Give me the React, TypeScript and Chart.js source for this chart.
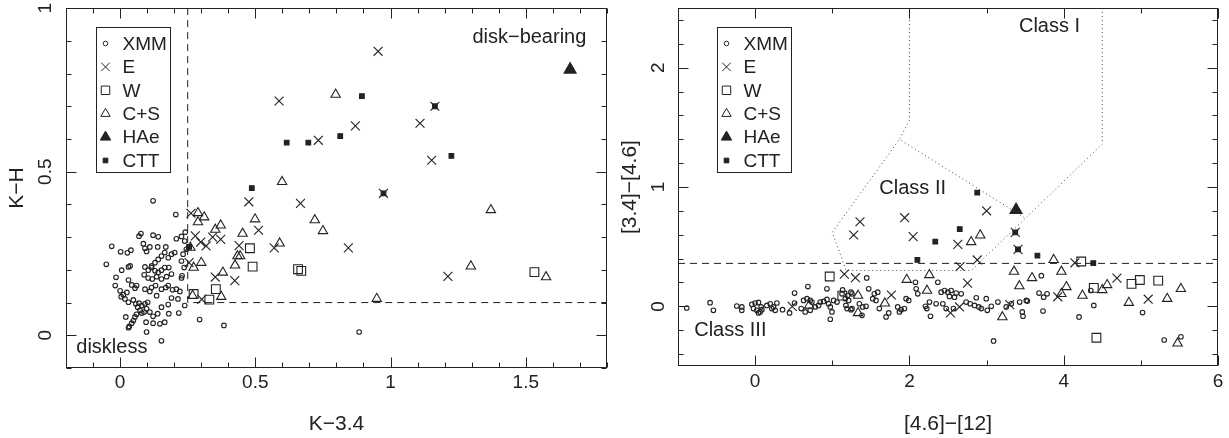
import React, { useEffect, useRef } from "react";
import { Chart, registerables } from "chart.js";
Chart.register(...registerables);

type P = [number, number];

const FONT = "'Liberation Sans', Arial, sans-serif";
const INK = "#222";

// ---------- Left panel: K-3.4 vs K-H ----------
const leftXTicks = [0, 0.5, 1, 1.5];
const leftYTicks = [0, 0.5, 1];
const leftXMM: P[] = [
  [0.122,0.411],[0.206,0.369],[0.077,0.311],[0.070,0.303],[0.122,0.306],[0.141,0.301],[0.208,0.295],[0.227,0.302],[0.241,0.315],[0.239,0.288],
  [-0.031,0.272],[0.002,0.255],[0.027,0.252],[0.040,0.260],[0.086,0.280],[0.092,0.266],[0.098,0.256],[0.110,0.270],[0.139,0.270],[0.169,0.270],
  [0.165,0.253],[0.153,0.242],[0.141,0.232],[0.129,0.222],[0.117,0.212],[0.178,0.237],[0.190,0.248],[0.202,0.253],[0.233,0.248],[0.245,0.263],
  [0.227,0.227],[0.237,0.207],[0.229,0.182],[0.227,0.175],[-0.051,0.217],[0.006,0.199],[0.031,0.209],[0.037,0.212],[0.092,0.209],[0.104,0.199],
  [0.116,0.207],[0.129,0.197],[0.141,0.192],[0.153,0.199],[0.165,0.207],[0.180,0.207],[0.190,0.187],[0.089,0.185],[0.104,0.175],[0.119,0.172],
  [0.135,0.179],[0.153,0.172],[0.172,0.179],[-0.015,0.177],[0.031,0.169],[0.043,0.154],[0.055,0.144],[0.061,0.152],[-0.018,0.152],[0.000,0.136],
  [0.012,0.124],[0.004,0.118],[0.025,0.131],[0.092,0.141],[0.110,0.134],[0.116,0.146],[0.131,0.152],[0.135,0.121],[0.153,0.141],[0.169,0.146],
  [0.178,0.152],[0.194,0.139],[0.208,0.141],[0.221,0.134],[0.018,0.111],[0.031,0.101],[0.049,0.108],[0.058,0.096],[0.070,0.098],[0.080,0.091],
  [0.092,0.096],[0.102,0.101],[0.065,0.086],[0.074,0.076],[0.080,0.068],[0.089,0.071],[0.098,0.081],[0.061,0.064],[0.055,0.056],[0.049,0.045],
  [0.043,0.037],[0.034,0.027],[0.031,0.023],[0.021,0.056],[0.110,0.071],[0.122,0.058],[0.139,0.066],[0.153,0.086],[0.178,0.094],[0.190,0.114],
  [0.214,0.111],[0.239,0.091],[0.217,0.068],[0.180,0.066],[0.165,0.040],[0.147,0.035],[0.122,0.037],[0.096,0.040],[0.098,0.010],[0.294,0.048],
  [0.153,-0.017],[0.384,0.030],[0.884,0.010]
];
const leftE: P[] = [
  [0.954,0.868],[0.588,0.716],[0.733,0.596],[0.870,0.640],[1.109,0.648],[1.164,0.700],[1.152,0.535],[0.974,0.434],[0.476,0.408],[0.667,0.403],
  [0.512,0.321],[0.570,0.267],[0.844,0.267],[1.212,0.180],[0.440,0.274],[0.424,0.167],[0.352,0.178],[0.262,0.373],[0.278,0.304],[0.298,0.285],
  [0.318,0.273],[0.342,0.300],[0.372,0.293],[0.255,0.222],[0.302,0.110]
];
const leftW: P[] = [
  [0.272,0.126],[0.330,0.109],[0.354,0.141],[0.480,0.266],[0.490,0.210],[0.658,0.202],[0.670,0.197],[1.532,0.193]
];
const leftCS: P[] = [
  [0.797,0.736],[0.599,0.469],[0.499,0.355],[0.720,0.352],[0.750,0.319],[0.590,0.281],[1.371,0.383],[1.297,0.211],[1.575,0.178],[0.949,0.112],
  [0.288,0.374],[0.311,0.361],[0.288,0.346],[0.372,0.336],[0.352,0.323],[0.453,0.311],[0.260,0.268],[0.300,0.222],[0.272,0.207],[0.380,0.192],
  [0.425,0.214],[0.434,0.242],[0.444,0.242],[0.268,0.121],[0.374,0.118]
];
const leftHAe: P[] = [[1.664,0.812]];
const leftCTT: P[] = [
  [0.894,0.731],[0.616,0.589],[0.696,0.589],[0.814,0.609],[1.164,0.700],[1.225,0.548],[0.974,0.434],[0.487,0.450],[0.255,0.270]
];
const leftBoundary: P[] = [[0.25,1.0],[0.25,0.1],[1.8,0.1]];

// ---------- Right panel: [4.6]-[12] vs [3.4]-[4.6] ----------
const rightXTicks = [0, 2, 4, 6];
const rightYTicks = [0, 1, 2];
const rightXMM: P[] = [
  [-0.887,-0.014],[-0.584,0.031],[-0.541,-0.033],[-0.238,0.003],[-0.173,-0.005],[-0.173,-0.033],[-0.043,0.017],[0,0.028],[0.043,0.033],[-0.022,-0.019],
  [0.022,-0.033],[0.043,-0.055],[0.065,-0.047],[0.087,-0.028],[0.078,-0.005],[0.152,0.008],[0.195,0.022],[0.238,-0.005],[0.26,-0.033],[0.282,0.028],
  [0.216,-0.019],[0.355,-0.028],[0.446,-0.055],[0.511,0.028],[0.511,0.111],[0.597,-0.019],[0.628,0.050],[0.671,0.064],[0.714,0.050],[0.736,0.036],
  [0.649,-0.047],[0.714,-0.033],[0.779,-0.005],[0.822,0.008],[0.844,0.036],[0.887,0.041],[0.931,0.058],[0.952,0.022],[0.974,-0.005],[0.996,-0.047],
  [0.974,-0.108],[1.017,0.050],[1.061,0.036],[0.931,0.147],[0.684,0.166],[1.126,0.105],[1.169,0.064],[1.212,0.050],[1.256,0.105],[1.256,-0.019],
  [1.191,-0.019],[1.134,0.138],[1.199,0.091],[1.242,0.119],[1.177,0.008],[1.242,-0.028],[1.351,0.022],[1.394,-0.005],[1.385,-0.075],[1.437,0],
  [1.446,0.238],[1.472,0.147],[1.524,0.064],[1.545,0.105],[1.589,0.119],[1.567,0.050],[1.61,-0.019],[1.697,-0.089],[1.732,-0.055],[1.848,-0.005],
  [1.892,-0.028],[1.935,-0.019],[1.957,0.064],[1.991,0.050],[1.87,-0.047],[2.078,0.202],[2.087,0.147],[2.108,0.105],[2.26,0.036],[2.208,0],
  [2.225,-0.019],[2.273,-0.083],[2.346,0.022],[2.368,0.202],[2.411,0.119],[2.455,0.133],[2.498,0.119],[2.541,0.133],[2.519,0.083],[2.584,0.077],
  [2.606,0.111],[2.433,0.022],[2.476,-0.019],[2.571,-0.019],[2.671,0.105],[2.736,0.036],[2.788,0.022],[2.844,0.008],[2.866,0.072],[2.900,-0.005],
  [2.931,-0.019],[2.996,0.064],[3.009,-0.033],[3.061,0],[3.147,0.036],[3.255,-0.005],[3.32,0.022],[3.429,0.036],[3.463,-0.047],[3.472,-0.083],
  [3.528,0.044],[3.091,-0.290],[3.71,0.257],[3.68,0.111],[3.74,0.077],[3.784,0.105],[3.732,-0.039],[3.515,0.050],[4.351,0.133],[4.39,0.008],
  [4.199,-0.089],[5.022,-0.052],[5.303,-0.282],[5.519,-0.255]
];
const rightE: P[] = [
  [1.278,0.598],[1.359,0.709],[1.938,0.743],[2.048,0.584],[2.627,0.520],[2.657,0.334],[2.879,0.389],[3.000,0.801],[3.372,0.620],[3.407,0.478],
  [2.753,0.195],[1.156,0.270],[1.300,0.240],[4.145,0.365],[4.690,0.237],[5.095,0.060],[3.923,0.080],[3.300,0.015],[2.532,-0.055],[2.649,-0.005],
  [1.766,0.095],[0.480,0.000]
];
const rightW: P[] = [
  [0.966,0.250],[1.130,0.090],[4.227,0.376],[4.390,0.155],[4.879,0.188],[4.987,0.221],[5.225,0.216],[4.424,-0.263]
];
const rightCS: P[] = [
  [0.700,0.008],[1.334,0.090],[1.334,-0.055],[1.682,0.025],[1.965,0.224],[2.258,0.263],[2.228,0.132],[2.800,0.540],[2.918,0.596],[3.205,-0.090],
  [3.356,0.292],[3.425,0.170],[3.870,0.390],[3.970,0.292],[4.035,0.163],[3.970,0.105],[3.589,0.238],[4.243,0.091],[4.500,0.138],[4.563,0.180],
  [4.844,0.031],[5.342,0.064],[5.519,0.147],[5.476,-0.310]
];
const rightHAe: P[] = [[3.382,0.807]];
const rightCTT: P[] = [
  [2.879,0.954],[2.652,0.648],[2.335,0.542],[2.103,0.389],[3.372,0.620],[3.407,0.478],[3.659,0.426],[4.383,0.362]
];
const rightDiskLine: P[] = [[-1,0.36],[6,0.36]];
const classIBoundary: P[] = [[2,2.5],[2,1.56],[1.87,1.40],[3.5,0.74]];
const classIIBoundary: P[] = [[4.5,2.5],[4.5,1.36],[2.8,0.30],[1.18,0.30],[1.0,0.62],[1.87,1.40]];

// ---------- helpers ----------
const toPts = (a: P[]) => a.map(([x, y]) => ({ x, y }));

function markerSets(xmm: P[], e: P[], w: P[], cs: P[], hae: P[], ctt: P[]) {
  const base = { pointBorderColor: INK, pointBorderWidth: 1.1, legendEntry: true };
  return [
    { ...base, label: "XMM", data: toPts(xmm), pointStyle: "circle", pointRadius: 2.3, pointBackgroundColor: "rgba(0,0,0,0)" },
    { ...base, label: "E", data: toPts(e), pointStyle: "crossRot", pointRadius: 6.3, pointBackgroundColor: "rgba(0,0,0,0)" },
    { ...base, label: "W", data: toPts(w), pointStyle: "rect", pointRadius: 6.2, pointBackgroundColor: "rgba(0,0,0,0)" },
    { ...base, label: "C+S", data: toPts(cs), pointStyle: "triangle", pointRadius: 5.4, pointBackgroundColor: "rgba(0,0,0,0)" },
    { ...base, label: "HAe", data: toPts(hae), pointStyle: "triangle", pointRadius: 7, pointBackgroundColor: INK },
    { ...base, label: "CTT", data: toPts(ctt), pointStyle: "rect", pointRadius: 3.3, pointBackgroundColor: INK },
  ];
}

function lineSet(pts: P[], dash: number[], color = INK) {
  return {
    label: "", data: toPts(pts), showLine: true, pointRadius: 0, borderColor: color,
    borderWidth: 1, borderDash: dash, fill: false, tension: 0, legendEntry: false,
  };
}

function drawMarker(ctx: CanvasRenderingContext2D, style: string, x: number, y: number, r: number, fill: string) {
  ctx.beginPath();
  if (style === "circle") {
    ctx.arc(x, y, r, 0, Math.PI * 2);
  } else if (style === "crossRot") {
    const o = r * Math.SQRT1_2;
    ctx.moveTo(x - o, y - o); ctx.lineTo(x + o, y + o);
    ctx.moveTo(x - o, y + o); ctx.lineTo(x + o, y - o);
  } else if (style === "rect") {
    const s = r * Math.SQRT1_2;
    ctx.rect(x - s, y - s, 2 * s, 2 * s);
  } else if (style === "triangle") {
    let a = 0;
    ctx.moveTo(x + Math.sin(a) * r, y - Math.cos(a) * r);
    a += (2 * Math.PI) / 3;
    ctx.lineTo(x + Math.sin(a) * r, y - Math.cos(a) * r);
    a += (2 * Math.PI) / 3;
    ctx.lineTo(x + Math.sin(a) * r, y - Math.cos(a) * r);
    ctx.closePath();
  }
  if (fill && fill !== "rgba(0,0,0,0)") { ctx.fillStyle = fill; ctx.fill(); }
  ctx.stroke();
}

const decorPlugin = {
  id: "decor",
  afterDatasetsDraw(chart: any, _args: any, opts: any) {
    const { ctx, chartArea: ca, scales } = chart;
    const xs = scales.x, ys = scales.y;
    ctx.save();
    ctx.strokeStyle = INK;
    ctx.lineWidth = 1;
    ctx.setLineDash([]);
    const L = Math.round(ca.left) + 0.5, R = Math.round(ca.right) - 0.5;
    const T = Math.round(ca.top) + 0.5, B = Math.round(ca.bottom) - 0.5;
    ctx.strokeRect(L, T, R - L, B - T);
    const seg = (x1: number, y1: number, x2: number, y2: number) => {
      ctx.beginPath(); ctx.moveTo(x1, y1); ctx.lineTo(x2, y2); ctx.stroke();
    };
    const isMajor = (v: number, m: number) => Math.abs(v / m - Math.round(v / m)) < 1e-6;
    const xStart = Math.ceil(xs.min / opts.xMinor - 1e-6);
    for (let i = xStart; i * opts.xMinor <= xs.max + 1e-9; i++) {
      const v = i * opts.xMinor;
      const len = isMajor(v, opts.xMajor) ? 10 : 5;
      const px = Math.round(xs.getPixelForValue(v)) + 0.5;
      seg(px, B, px, B - len); seg(px, T, px, T + len);
    }
    const yStart = Math.ceil(ys.min / opts.yMinor - 1e-6);
    for (let i = yStart; i * opts.yMinor <= ys.max + 1e-9; i++) {
      const v = i * opts.yMinor;
      const len = isMajor(v, opts.yMajor) ? 10 : 5;
      const py = Math.round(ys.getPixelForValue(v)) + 0.5;
      seg(L, py, L + len, py); seg(R, py, R - len, py);
    }
    // annotations
    ctx.fillStyle = INK;
    ctx.font = `20px ${FONT}`;
    ctx.textBaseline = "middle";
    for (const t of opts.texts) {
      ctx.textAlign = t.align;
      ctx.fillText(t.text, xs.getPixelForValue(t.x), ys.getPixelForValue(t.y));
    }
    // legend box
    ctx.font = `19px ${FONT}`;
    const bx = Math.round(ca.left + opts.legendDX) + 0.5;
    const by = Math.round(ca.top + opts.legendDY) + 0.5;
    ctx.strokeRect(bx, by, 74, 145);
    const entries = chart.data.datasets.filter((d: any) => d.legendEntry);
    entries.forEach((d: any, i: number) => {
      const cy = by + 16 + i * 23.4;
      ctx.strokeStyle = INK;
      ctx.lineWidth = 1;
      drawMarker(ctx, d.pointStyle, bx + 9, cy, Math.min(d.pointRadius, 6), d.pointBackgroundColor);
      ctx.fillStyle = INK;
      ctx.textAlign = "left";
      ctx.fillText(d.label, bx + 26, cy + 1);
    });
    ctx.restore();
  },
};

interface PanelOpts {
  xMin: number; xMax: number; yMin: number; yMax: number;
  xTicks: number[]; yTicks: number[];
  xTitle: string; yTitle: string;
  padRight: number; xAxisH: number; yTickPad: number; yTitlePad: number; xTickPad: number;
  datasets: any[];
  decor: any;
}

function buildConfig(p: PanelOpts): any {
  const tickFont = { size: 19, family: FONT };
  const titleFont = { size: 21, family: FONT };
  const noPad = (s: any) => { s.paddingTop = 0; s.paddingBottom = 0; s.paddingLeft = 0; s.paddingRight = 0; };
  return {
    type: "scatter",
    data: { datasets: p.datasets },
    options: {
      responsive: false,
      animation: false,
      events: [],
      layout: { padding: { left: 0, right: p.padRight, top: 5, bottom: 0 } },
      plugins: { legend: { display: false }, tooltip: { enabled: false }, decor: p.decor },
      scales: {
        x: {
          type: "linear", position: "bottom", min: p.xMin, max: p.xMax,
          grid: { display: false, drawTicks: false }, border: { display: false },
          afterBuildTicks: (s: any) => { s.ticks = p.xTicks.map((v) => ({ value: v })); },
          afterFit: (s: any) => { s.height = p.xAxisH; noPad(s); },
          ticks: { callback: (v: any) => String(v), font: tickFont, color: INK, padding: p.xTickPad, maxRotation: 0, autoSkip: false },
          title: { display: true, text: p.xTitle, font: titleFont, color: INK, padding: { top: 0, bottom: 1 } },
        },
        y: {
          type: "linear", position: "left", min: p.yMin, max: p.yMax,
          grid: { display: false, drawTicks: false }, border: { display: false },
          afterBuildTicks: (s: any) => { s.ticks = p.yTicks.map((v) => ({ value: v })); },
          afterFit: (s: any) => { s.width = 66; noPad(s); },
          ticks: { callback: (v: any) => String(v), font: tickFont, color: INK, padding: p.yTickPad, minRotation: 90, maxRotation: 90, crossAlign: "center", autoSkip: false },
          title: { display: true, text: p.yTitle, font: titleFont, color: INK, padding: { top: p.yTitlePad, bottom: 0 } },
        },
      },
    },
    plugins: [decorPlugin],
  };
}

function Panel({ cfg, left, width }: { cfg: () => any; left: number; width: number }) {
  const ref = useRef<HTMLCanvasElement>(null);
  useEffect(() => {
    const chart = new Chart(ref.current as HTMLCanvasElement, cfg());
    return () => chart.destroy();
  }, []);
  return (
    <canvas
      ref={ref}
      width={width}
      height={438}
      style={{ position: "absolute", left, top: 0, width, height: 438 }}
    />
  );
}

const leftConfig = () =>
  buildConfig({
    xMin: -0.2, xMax: 1.8, yMin: -0.1, yMax: 1.0,
    xTicks: leftXTicks, yTicks: leftYTicks,
    xTitle: "K\u22123.4", yTitle: "K\u2212H",
    padRight: 5, xAxisH: 70, yTickPad: 7, yTitlePad: 5, xTickPad: 3,
    datasets: [lineSet(leftBoundary, [7, 5]), ...markerSets(leftXMM, leftE, leftW, leftCS, leftHAe, leftCTT)],
    decor: {
      xMinor: 0.1, xMajor: 0.5, yMinor: 0.1, yMajor: 0.5,
      legendDX: 30, legendDY: 19,
      texts: [
        { text: "disk\u2212bearing", x: 1.724, y: 0.909, align: "right" },
        { text: "diskless", x: -0.162, y: -0.036, align: "left" },
      ],
    },
  });

const rightConfig = () =>
  buildConfig({
    xMin: -1, xMax: 6, yMin: -0.5, yMax: 2.5,
    xTicks: rightXTicks, yTicks: rightYTicks,
    xTitle: "[4.6]\u2212[12]", yTitle: "[3.4]\u2212[4.6]",
    padRight: 11, xAxisH: 72, yTickPad: 14, yTitlePad: 6, xTickPad: 4,
    datasets: [
      lineSet(rightDiskLine, [7, 5]),
      lineSet(classIBoundary, [1, 3], "#444"),
      lineSet(classIIBoundary, [1, 3], "#444"),
      ...markerSets(rightXMM, rightE, rightW, rightCS, rightHAe, rightCTT),
    ],
    decor: {
      xMinor: 1, xMajor: 2, yMinor: 0.2, yMajor: 1,
      legendDX: 39, legendDY: 19,
      texts: [
        { text: "Class I", x: 3.42, y: 2.35, align: "left" },
        { text: "Class II", x: 1.61, y: 0.99, align: "left" },
        { text: "Class III", x: -0.79, y: -0.2, align: "left" },
      ],
    },
  });

export default function App() {
  return (
    <div style={{ position: "absolute", left: 0, top: 0, width: 1229, height: 438, background: "#fff" }}>
      <Panel cfg={leftConfig} left={0} width={615} />
      <Panel cfg={rightConfig} left={612} width={617} />
    </div>
  );
}
